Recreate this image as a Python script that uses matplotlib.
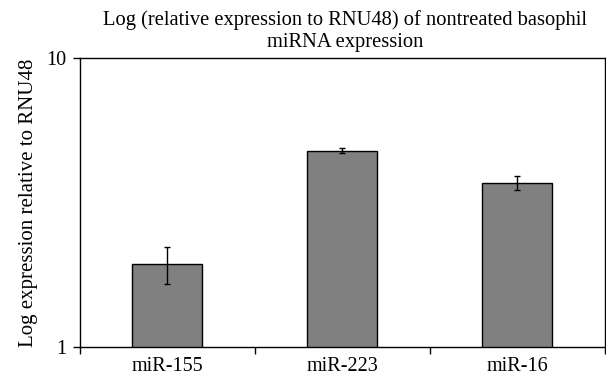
import matplotlib
matplotlib.use("Agg")
import matplotlib.pyplot as plt
from matplotlib.ticker import FixedLocator, NullLocator

# values
genes = ["miR-155", "miR-223", "miR-16"]
expression = [1.93, 4.78, 3.69]
err_low = [0.28, 0.10, 0.19]
err_high = [0.28, 0.09, 0.21]

plt.rcParams['font.family'] = ['Liberation Serif', 'DejaVu Serif']

fig = plt.figure(figsize=(6.06, 3.75), dpi=100)
ax = fig.add_axes([0.132, 0.075, 0.866, 0.770])

x = range(len(genes))
ax.bar(x, expression, width=0.4, color="#808080", edgecolor="black", linewidth=1.0,
       yerr=[err_low, err_high], capsize=2,
       error_kw=dict(elinewidth=1.0, capthick=1.0, ecolor="black"))

ax.set_yscale("log")
ax.set_ylim(1, 10)
ax.set_xlim(-0.5, len(genes) - 0.5)
ax.yaxis.set_major_locator(FixedLocator([1, 10]))
ax.yaxis.set_minor_locator(NullLocator())
ax.set_yticklabels(["1", "10"])

ax.set_xticks(list(x))
ax.set_xticklabels(genes)
ax.set_xticks([i - 0.5 for i in range(len(genes) + 1)], minor=True)
ax.tick_params(axis="x", which="major", length=0, labelsize=14.5, pad=7)
ax.tick_params(axis="x", which="minor", length=5, direction="out", width=1)
ax.tick_params(axis="y", which="major", length=5, direction="out", width=1, labelsize=14.5, pad=5)

for s in ax.spines.values():
    s.set_linewidth(1.0)

ax.set_ylabel("Log expression relative to RNU48", fontsize=15, labelpad=6)
ax.set_title("Log (relative expression to RNU48) of nontreated basophil\nmiRNA expression",
             fontsize=14.8, pad=8, linespacing=1.25, x=0.505)

fig.savefig("out.png", dpi=100)
